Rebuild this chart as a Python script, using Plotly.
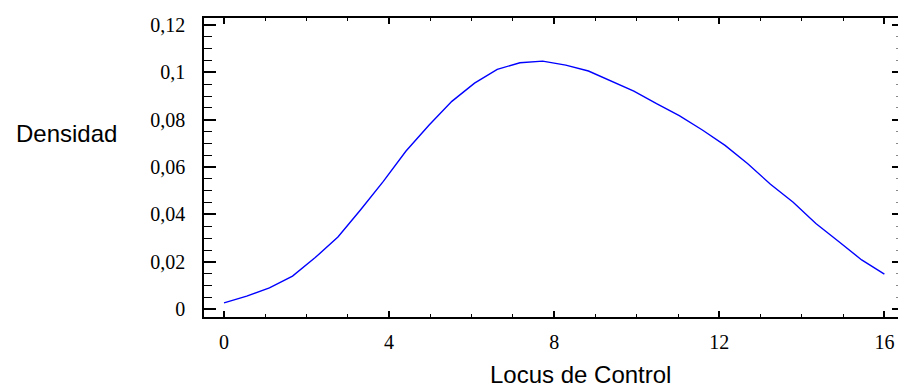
import plotly.graph_objects as go

# Density trace values
locus = [0.0, 0.55, 1.10, 1.66, 2.21, 2.76, 3.31, 3.86, 4.41, 4.97, 5.52, 6.07,
         6.62, 7.17, 7.72, 8.28, 8.83, 9.38, 9.93, 10.48, 11.03, 11.59, 12.14,
         12.69, 13.24, 13.79, 14.34, 14.90, 15.45, 16.0]
densidad = [0.0027, 0.0055, 0.0090, 0.0140, 0.0218, 0.0305, 0.0420, 0.0540,
            0.0668, 0.0778, 0.0878, 0.0955, 0.1013, 0.1041, 0.1048, 0.1031,
            0.1006, 0.0965, 0.0921, 0.0868, 0.0818, 0.0757, 0.0692, 0.0614,
            0.0528, 0.0452, 0.0362, 0.0285, 0.0208, 0.0148]

x_tickvals = [0, 4, 8, 12, 16]
x_ticktext = ["0", "4", "8", "12", "16"]
y_tickvals = [0, 0.02, 0.04, 0.06, 0.08, 0.10, 0.12]
y_ticktext = ["0", "0,02", "0,04", "0,06", "0,08", "0,1", "0,12"]

x_title = "Locus de Control"
y_title = "Densidad"

XR = [-0.485, 16.33]
YR = [-0.0033, 0.123]

serif = dict(family="Liberation Serif, Times New Roman, serif", size=20, color="black")
sans = dict(family="Liberation Sans, Arial, sans-serif", size=24, color="black")

fig = go.Figure()
fig.add_trace(go.Scatter(x=locus, y=densidad, mode="lines",
                         line=dict(color="#0000ff", width=1.4),
                         showlegend=False, hoverinfo="skip"))
fig.add_trace(go.Scatter(x=[], y=[], xaxis="x", yaxis="y2", mode="lines",
                         showlegend=False, hoverinfo="skip"))

fig.update_layout(
    width=898, height=385,
    margin=dict(l=204, r=0, t=18, b=68),
    paper_bgcolor="white", plot_bgcolor="white",
    xaxis=dict(range=XR, tickvals=x_tickvals, ticktext=x_ticktext,
               showgrid=False, zeroline=False, showline=True,
               linecolor="black", linewidth=1.5, mirror="ticks",
               ticks="inside", ticklen=6, tickwidth=1.5, tickcolor="black",
               minor=dict(dtick=1, tick0=0, ticks="inside", ticklen=3.5,
                          tickwidth=1.2, tickcolor="black", showgrid=False),
               tickfont=serif, ticklabelstandoff=6),
    yaxis=dict(range=YR, tickvals=y_tickvals, ticktext=y_ticktext,
               showgrid=False, zeroline=False, showline=True,
               linecolor="black", linewidth=1.5,
               ticks="inside", ticklen=12, tickwidth=1.5, tickcolor="black",
               minor=dict(dtick=0.005, tick0=0, ticks="inside", ticklen=8,
                          tickwidth=1.2, tickcolor="black", showgrid=False),
               tickfont=serif, ticklabelstandoff=13),
    yaxis2=dict(range=YR, overlaying="y", side="right", anchor="x",
                tickvals=y_tickvals, showticklabels=False,
                showgrid=False, zeroline=False, showline=False,
                ticks="inside", ticklen=6, tickwidth=1.5, tickcolor="black",
                minor=dict(dtick=0.005, tick0=0, ticks="inside", ticklen=2,
                           tickwidth=1, tickcolor="#888888", showgrid=False)),
    annotations=[
        dict(text=y_title, xref="paper", yref="paper", x=-0.1988, y=0.615,
             xanchor="center", yanchor="middle", showarrow=False, font=sans),
        dict(text=x_title, xref="paper", yref="paper", x=0.5425, y=-0.192,
             xanchor="center", yanchor="middle", showarrow=False, font=sans),
    ],
)

# remove the default page margin so the 898x385 figure fills the window exactly
fig.write_html(
    "out.html",
    config={"displayModeBar": False},
    post_script="document.body.style.margin='0';document.body.style.overflow='hidden';",
)
